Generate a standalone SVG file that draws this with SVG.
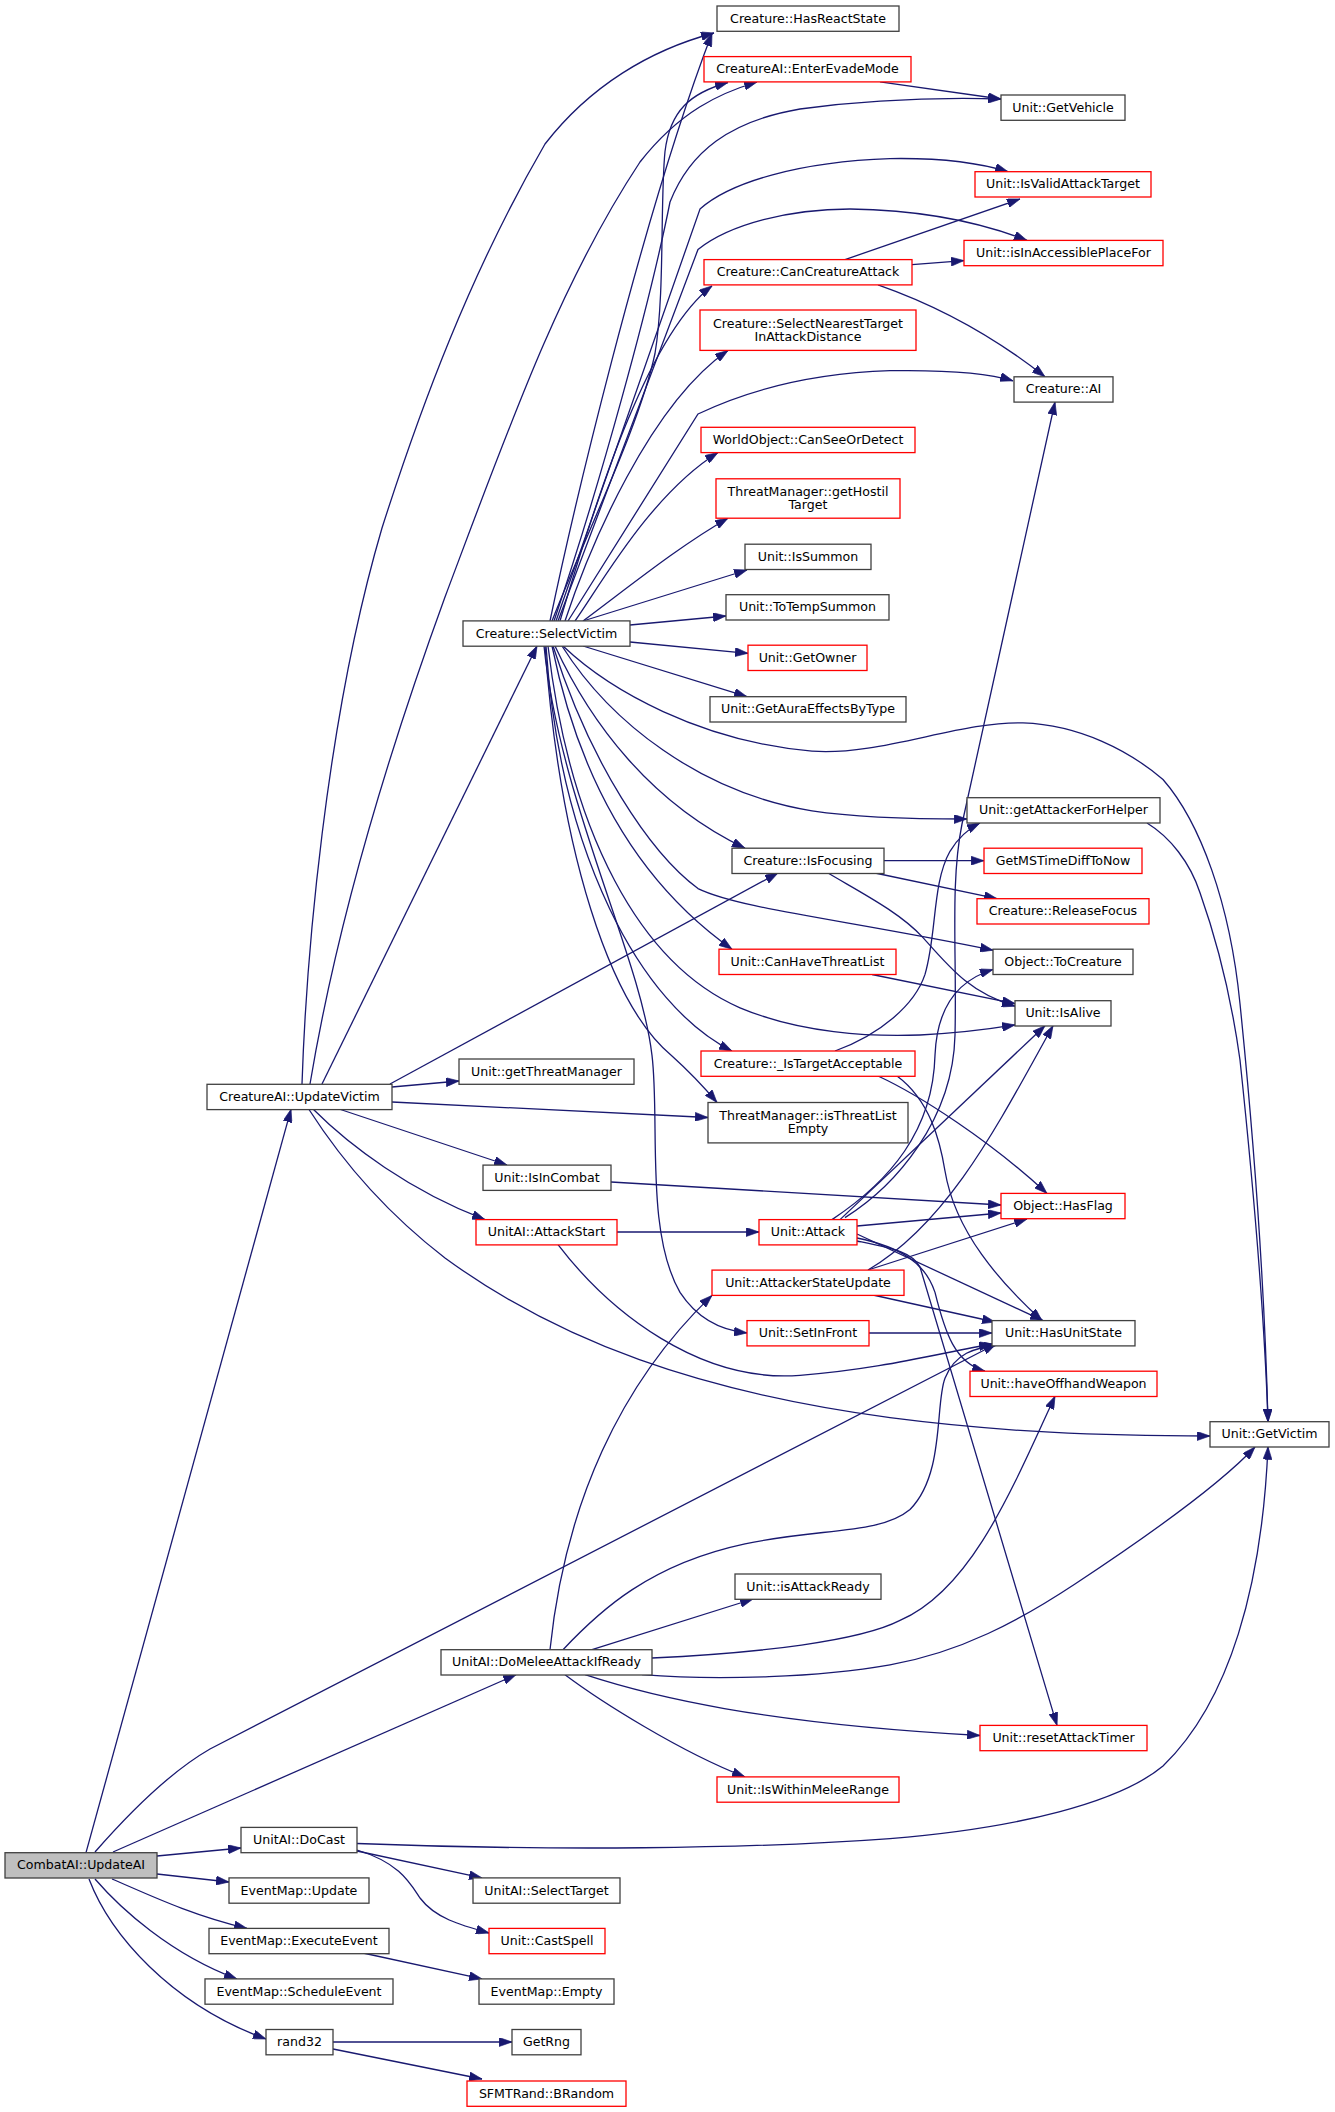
<svg xmlns="http://www.w3.org/2000/svg" width="1335" height="2112" viewBox="0 0 1335 2112">
<style>
.n rect{fill:#fff;stroke:#404040;stroke-width:1.3}
.n.r rect{stroke:#ff0000}
.n.g rect{fill:#bfbfbf}
.n text{font-family:"DejaVu Sans",sans-serif;font-size:12.6px;fill:#000;text-anchor:middle}
#edges path{fill:none;stroke:#191970;stroke-width:1.3;marker-end:url(#ah)}
</style>
<defs>
<marker id="ah" viewBox="0 0 10 7" refX="10" refY="3.5" markerWidth="13" markerHeight="9" markerUnits="userSpaceOnUse" orient="auto"><path d="M0,0 L10,3.5 L0,7 z" fill="#191970" stroke="#191970" stroke-width="0.5"/></marker>
</defs>
<rect width="1335" height="2112" fill="#fff"/>
<g id="edges">
<path d="M302,1084 C306,964 325,722 382,528 C420,409 470,273 545,144 C590,86 650,50 714,33"/>
<path d="M310,1084 C330,964 370,803 445,597 C510,424 560,283 640,162 C680,111 720,93 757,82"/>
<path d="M322,1084 L537,646"/>
<path d="M390,1084 L778,873"/>
<path d="M392,1087 L459,1081"/>
<path d="M392,1102 L708,1117.5"/>
<path d="M339,1109 L507,1165"/>
<path d="M313,1109 C350,1146 410,1191 485,1219.6"/>
<path d="M309,1109.5 C345,1165.6 390,1215.6 445,1258 C560,1342 700,1392 890,1417.7 C1000,1432 1100,1436 1210,1436"/>
<path d="M86,1852.7 L291,1109.3"/>
<path d="M113,1852 L516,1674.7"/>
<path d="M95,1852 C130,1812 170,1772 210,1749 L996,1344"/>
<path d="M157,1856 L241,1848"/>
<path d="M157,1874 L229,1882"/>
<path d="M112,1879 C145,1893 190,1915 247,1928.4"/>
<path d="M95,1879 C120,1908 170,1954 237,1979"/>
<path d="M89,1879 C110,1934 170,2004 266,2039"/>
<path d="M357,1843.5 C550,1851 750,1849 890,1838.6 C1020,1828 1120,1802 1163,1766 C1230,1701 1262,1585 1268,1446.7"/>
<path d="M357,1851 L482,1877.9"/>
<path d="M357,1850 C400,1863 410,1883 420,1898 C435,1918 460,1925 489,1933"/>
<path d="M363,1953 L482,1978.9"/>
<path d="M333,2042 L512,2042"/>
<path d="M333,2049 L482,2079"/>
<path d="M550,1649.7 C565,1504.5 620,1383.3 712,1295.4"/>
<path d="M563,1649.7 C600,1610.3 650,1564.2 745,1543.9 C820,1527.7 880,1534.8 910,1509.5 C945,1474.2 935,1403.5 945,1378.2 C955,1353 975,1348 997,1345"/>
<path d="M592,1649.7 L753,1599"/>
<path d="M652,1658 C760,1653 860,1641 900,1620.4 C970,1590 1010,1494.4 1055,1396.2"/>
<path d="M642,1674.7 C720,1681 820,1677 890,1664.8 C960,1652.7 1020,1620.4 1075,1584 C1150,1534.5 1220,1484.3 1255,1447"/>
<path d="M585,1674.7 C650,1696 760,1723.4 980,1735.5"/>
<path d="M565,1674.7 C600,1701 680,1751.7 745,1776.9"/>
<path d="M617,1232 L759,1232"/>
<path d="M558,1244.6 C610,1312.5 700,1383.3 800,1375.3 C880,1369.3 940,1353 992,1344"/>
<path d="M611,1182 L1001,1205"/>
<path d="M857,1226 L1001,1213"/>
<path d="M857,1234 L1043,1320.6"/>
<path d="M857,1238 C900,1247 925,1262 935,1292.4 C945,1332.8 955,1363 985,1371.2"/>
<path d="M857,1241 C895,1249 912,1252 920,1267 L1057,1725.4"/>
<path d="M840,1219.6 L1045,1025.7"/>
<path d="M832,1219.6 C890,1181 933,1130.7 935,1055.3 C937,1004.8 960,979.5 993,969.5"/>
<path d="M845,1217.6 C895,1186.3 953,1120.6 955,1035 C957,954.3 950,883.6 962,824 L1055,402"/>
<path d="M868,1270 L1027,1219"/>
<path d="M873,1295 L995,1322"/>
<path d="M868,1270 C950,1221.6 1000,1120.6 1053,1025.7"/>
<path d="M869,1333 L992,1333"/>
<path d="M835,1051 C880,1034.8 915,1004.8 925,974.4 C937,933.8 932,883.3 950,851.3 C958,838 968,829 980,823"/>
<path d="M878,1076 C920,1095.4 990,1140.8 1047,1193.4"/>
<path d="M897,1076 C930,1100.4 940,1140.8 945,1171 C955,1231.8 1000,1282.3 1042,1320.6"/>
<path d="M884,860.7 L984,860.7"/>
<path d="M875,873 L997,898.7"/>
<path d="M828,873 C860,892.1 900,912.3 923,937.6 C950,967.9 970,993.1 1015,1006.2"/>
<path d="M872,974.5 L1015,1003.6"/>
<path d="M845,259.6 L1020,199"/>
<path d="M912,264.6 L964,260.6"/>
<path d="M878,284.8 C930,303 990,333.3 1045,376.8"/>
<path d="M880,81.8 L1001,99"/>
<path d="M550,621 C570,525 640,222 712,33.3"/>
<path d="M552,621 C590,525 640,424 655,353.5 C665,293 660,202 665,151.5 C670,111 690,93 728,82.5"/>
<path d="M554,621 C600,485 650,303 670,202 C690,151.5 730,121 800,109 C860,101 930,97 1001,99"/>
<path d="M556,621 L700,209 C730,182 800,161.6 890,158.6 C950,157.6 985,164.6 1008,171.7"/>
<path d="M558,621 L698,249.5 C730,224 790,209 850,209 C920,210 980,222 1027,240.4"/>
<path d="M560,621 C600,485 650,333 712,285.9"/>
<path d="M565,621 C590,545.5 650,404 728,350.5"/>
<path d="M568,621 L698,414 C740,394 800,373.7 890,370.7 C950,369.7 990,373.7 1013,380.8"/>
<path d="M575,621 C600,586 650,495 718,452.5"/>
<path d="M583,621 C630,586 680,545.5 728,518.2"/>
<path d="M583,621 L747,570"/>
<path d="M630,625 L726,616"/>
<path d="M630,642 L748,653.3"/>
<path d="M583,646 L747,696.7"/>
<path d="M563,646 C610,690.6 700,741.1 812,751.2 C880,756.3 960,720.9 1023,722.9 C1080,724.9 1130,751.2 1163,779.5 C1200,821.9 1230,902.7 1240,1003.8 C1255,1151 1265,1302.5 1268,1421.7"/>
<path d="M1147,823 C1170,837 1190,862.4 1200,892.7 C1225,963.4 1235,1024 1240,1060 C1255,1201.5 1265,1332.8 1268,1421.7"/>
<path d="M562,646 C610,722 700,792.6 812,810.8 C860,818 920,819 967,819"/>
<path d="M555,646 C590,722 650,802.7 745,848.2"/>
<path d="M553,646 C590,762.4 650,853.3 698,888.6 C740,908.8 840,918.9 993,950.2"/>
<path d="M552,646 C580,783 640,884 732,949.2"/>
<path d="M548,646 C570,833 640,964.4 740,1007.8 C800,1033 870,1037 920,1035 C960,1033 990,1029 1015,1024.9"/>
<path d="M546,646 C560,853.3 640,1004.8 732,1051"/>
<path d="M545,646 C560,853.3 610,1004.8 672,1056 C690,1072.2 705,1088.3 717,1102.5"/>
<path d="M544,646 C560,803 640,954.3 652,1055.3 C660,1120.6 645,1231.8 680,1292.4 C700,1322.7 725,1330.8 747,1332.9"/>
</g>
<g id="n1" class="n"><rect x="717" y="6" width="182" height="25.3"/><text x="808" y="22.6">Creature::HasReactState</text></g>
<g id="n2" class="n r"><rect x="704" y="56.6" width="207" height="25.3"/><text x="807.5" y="73.2">CreatureAI::EnterEvadeMode</text></g>
<g id="n3" class="n"><rect x="1001" y="95" width="124" height="25.3"/><text x="1063" y="111.6">Unit::GetVehicle</text></g>
<g id="n4" class="n r"><rect x="975" y="171.7" width="176" height="25.3"/><text x="1063" y="188.3">Unit::IsValidAttackTarget</text></g>
<g id="n5" class="n r"><rect x="964" y="240.4" width="199" height="25.3"/><text x="1063.5" y="257">Unit::isInAccessiblePlaceFor</text></g>
<g id="n6" class="n r"><rect x="704" y="259.6" width="208" height="25.3"/><text x="808" y="276.2">Creature::CanCreatureAttack</text></g>
<g id="n7" class="n r"><rect x="700" y="310" width="216" height="40.4"/><text x="808" y="327.5">Creature::SelectNearestTarget</text><text x="808" y="340.9">InAttackDistance</text></g>
<g id="n8" class="n"><rect x="1014" y="376.8" width="99" height="25.3"/><text x="1063.5" y="393.4">Creature::AI</text></g>
<g id="n9" class="n r"><rect x="701" y="427.3" width="214" height="25.3"/><text x="808" y="443.9">WorldObject::CanSeeOrDetect</text></g>
<g id="n10" class="n r"><rect x="716" y="478.8" width="184" height="39.4"/><text x="808" y="495.8">ThreatManager::getHostil</text><text x="808" y="509.2">Target</text></g>
<g id="n11" class="n"><rect x="745" y="544.2" width="126" height="25.3"/><text x="808" y="560.8">Unit::IsSummon</text></g>
<g id="n12" class="n"><rect x="726" y="594.7" width="163" height="25.3"/><text x="807.5" y="611.3">Unit::ToTempSummon</text></g>
<g id="n13" class="n"><rect x="463" y="620.9" width="167" height="25.3"/><text x="546.5" y="637.5">Creature::SelectVictim</text></g>
<g id="n14" class="n r"><rect x="748" y="645.2" width="119" height="25.3"/><text x="807.5" y="661.8">Unit::GetOwner</text></g>
<g id="n15" class="n"><rect x="710" y="696.7" width="196" height="25.3"/><text x="808" y="713.3">Unit::GetAuraEffectsByType</text></g>
<g id="n16" class="n"><rect x="967" y="797.7" width="193" height="25.3"/><text x="1063.5" y="814.3">Unit::getAttackerForHelper</text></g>
<g id="n17" class="n"><rect x="732" y="848.2" width="152" height="25.3"/><text x="808" y="864.8">Creature::IsFocusing</text></g>
<g id="n18" class="n r"><rect x="984" y="848.2" width="158" height="25.3"/><text x="1063" y="864.8">GetMSTimeDiffToNow</text></g>
<g id="n19" class="n r"><rect x="977" y="898.7" width="172" height="25.3"/><text x="1063" y="915.3">Creature::ReleaseFocus</text></g>
<g id="n20" class="n"><rect x="993" y="949.2" width="140" height="25.3"/><text x="1063" y="965.8">Object::ToCreature</text></g>
<g id="n21" class="n r"><rect x="719" y="949.2" width="177" height="25.3"/><text x="807.5" y="965.8">Unit::CanHaveThreatList</text></g>
<g id="n22" class="n"><rect x="1015" y="1000.7" width="96" height="25.3"/><text x="1063" y="1017.3">Unit::IsAlive</text></g>
<g id="n23" class="n r"><rect x="701" y="1051" width="214" height="25.3"/><text x="808" y="1067.6">Creature::_IsTargetAcceptable</text></g>
<g id="n24" class="n"><rect x="459" y="1059" width="175" height="25.3"/><text x="546.5" y="1075.6">Unit::getThreatManager</text></g>
<g id="n25" class="n"><rect x="708" y="1102.5" width="200" height="40.4"/><text x="808" y="1120">ThreatManager::isThreatList</text><text x="808" y="1133.4">Empty</text></g>
<g id="n26" class="n"><rect x="207" y="1084.3" width="185" height="25.3"/><text x="299.5" y="1100.9">CreatureAI::UpdateVictim</text></g>
<g id="n27" class="n"><rect x="483" y="1165.1" width="128" height="25.3"/><text x="547" y="1181.7">Unit::IsInCombat</text></g>
<g id="n28" class="n r"><rect x="1001" y="1193.4" width="124" height="25.3"/><text x="1063" y="1210">Object::HasFlag</text></g>
<g id="n29" class="n r"><rect x="476" y="1219.6" width="141" height="25.3"/><text x="546.5" y="1236.2">UnitAI::AttackStart</text></g>
<g id="n30" class="n r"><rect x="759" y="1219.6" width="98" height="25.3"/><text x="808" y="1236.2">Unit::Attack</text></g>
<g id="n31" class="n r"><rect x="712" y="1270.1" width="192" height="25.3"/><text x="808" y="1286.7">Unit::AttackerStateUpdate</text></g>
<g id="n32" class="n r"><rect x="747" y="1320.6" width="122" height="25.3"/><text x="808" y="1337.2">Unit::SetInFront</text></g>
<g id="n33" class="n"><rect x="992" y="1320.6" width="143" height="25.3"/><text x="1063.5" y="1337.2">Unit::HasUnitState</text></g>
<g id="n34" class="n r"><rect x="970" y="1371.2" width="187" height="25.3"/><text x="1063.5" y="1387.8">Unit::haveOffhandWeapon</text></g>
<g id="n35" class="n"><rect x="1210" y="1421.7" width="119" height="25.3"/><text x="1269.5" y="1438.3">Unit::GetVictim</text></g>
<g id="n36" class="n"><rect x="735" y="1574" width="146" height="25.3"/><text x="808" y="1590.6">Unit::isAttackReady</text></g>
<g id="n37" class="n"><rect x="441" y="1649.7" width="211" height="25.3"/><text x="546.5" y="1666.3">UnitAI::DoMeleeAttackIfReady</text></g>
<g id="n38" class="n r"><rect x="980" y="1725.4" width="167" height="25.3"/><text x="1063.5" y="1742">Unit::resetAttackTimer</text></g>
<g id="n39" class="n r"><rect x="717" y="1776.9" width="182" height="25.3"/><text x="808" y="1793.5">Unit::IsWithinMeleeRange</text></g>
<g id="n40" class="n"><rect x="241" y="1827.4" width="116" height="25.3"/><text x="299" y="1844">UnitAI::DoCast</text></g>
<g id="n41" class="n g"><rect x="5" y="1852.7" width="152" height="25.3"/><text x="81" y="1869.3">CombatAI::UpdateAI</text></g>
<g id="n42" class="n"><rect x="229" y="1877.9" width="140" height="25.3"/><text x="299" y="1894.5">EventMap::Update</text></g>
<g id="n43" class="n"><rect x="473" y="1877.9" width="147" height="25.3"/><text x="546.5" y="1894.5">UnitAI::SelectTarget</text></g>
<g id="n44" class="n"><rect x="209" y="1928.4" width="180" height="25.3"/><text x="299" y="1945">EventMap::ExecuteEvent</text></g>
<g id="n45" class="n r"><rect x="489" y="1928.4" width="116" height="25.3"/><text x="547" y="1945">Unit::CastSpell</text></g>
<g id="n46" class="n"><rect x="205" y="1978.9" width="188" height="25.3"/><text x="299" y="1995.5">EventMap::ScheduleEvent</text></g>
<g id="n47" class="n"><rect x="479" y="1978.9" width="135" height="25.3"/><text x="546.5" y="1995.5">EventMap::Empty</text></g>
<g id="n48" class="n"><rect x="266" y="2029.5" width="67" height="25.3"/><text x="299.5" y="2046.1">rand32</text></g>
<g id="n49" class="n"><rect x="512" y="2029.5" width="69" height="25.3"/><text x="546.5" y="2046.1">GetRng</text></g>
<g id="n50" class="n r"><rect x="467" y="2081" width="159" height="25.3"/><text x="546.5" y="2097.6">SFMTRand::BRandom</text></g>
</svg>
